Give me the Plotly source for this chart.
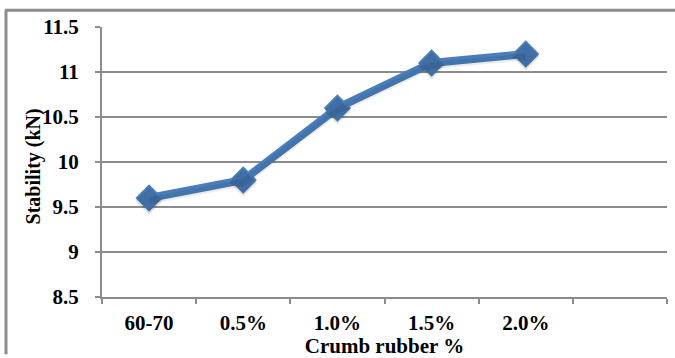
import plotly.graph_objects as go

categories = ["60-70", "0.5%", "1.0%", "1.5%", "2.0%", ""]
stability = [9.6, 9.8, 10.6, 11.1, 11.2]
y_ticks = [8.5, 9, 9.5, 10, 10.5, 11, 11.5]
y_tick_text = ["8.5", "9", "9.5", "10", "10.5", "11", "11.5"]

line_color = "#4A7EBB"
grid_color = "#8C8C8C"
font_family = "Liberation Serif, Times New Roman, serif"

# plot area in pixels (margins)
L, R, T, B = 102, 8, 27, 58
W, H = 675, 358
pw, ph = W - L - R, H - T - B

fig = go.Figure()

# soft drop shadow under the series
fig.add_trace(go.Scatter(
    x=categories[:len(stability)], y=[v - 0.03 for v in stability],
    mode="lines+markers",
    line=dict(color="rgba(0,0,0,0.08)", width=7),
    marker=dict(symbol="diamond", size=21, color="rgba(0,0,0,0.12)"),
    hoverinfo="skip", showlegend=False, xaxis="x2",
))

fig.add_trace(go.Scatter(
    x=categories[:len(stability)], y=stability,
    mode="lines+markers",
    line=dict(color=line_color, width=8),
    marker=dict(symbol="diamond", size=21, color=line_color),
    showlegend=False,
))

xaxis_common = dict(
    type="category",
    categoryorder="array",
    categoryarray=categories,
    range=[-0.5, len(categories) - 0.5],
)

fig.update_layout(
    width=W, height=H,
    margin=dict(l=L, r=R, t=T, b=B),
    paper_bgcolor="white",
    plot_bgcolor="white",
    font=dict(family=font_family, color="black"),
    xaxis=dict(
        **xaxis_common,
        tickvals=categories,
        ticktext=["<b>%s</b>" % c for c in categories],
        showgrid=False,
        showline=True, linecolor=grid_color, linewidth=2,
        ticks="outside", ticklen=5, tickcolor=grid_color, tickwidth=2,
        tickson="boundaries",
        ticklabelstandoff=6,
        tickfont=dict(size=21, family=font_family),
        title=dict(text="<b>Crumb rubber %</b>", font=dict(size=21), standoff=0),
    ),
    xaxis2=dict(**xaxis_common, overlaying="x", visible=False),
    yaxis=dict(
        range=[8.5, 11.5],
        tickvals=y_ticks, ticktext=["<b>%s</b>" % t for t in y_tick_text],
        showgrid=True, gridcolor=grid_color, gridwidth=2,
        showline=True, linecolor=grid_color, linewidth=2,
        ticks="outside", ticklen=5, tickcolor=grid_color, tickwidth=2,
        ticklabelstandoff=12,
        tickfont=dict(size=21, family=font_family),
        zeroline=False,
    ),
    annotations=[
        dict(text="<b>Stability (kN)</b>", textangle=-90,
             xref="paper", yref="paper",
             x=(33 - L) / pw, y=(H - B - 168) / ph,
             xanchor="center", yanchor="middle", showarrow=False,
             font=dict(size=20, family=font_family, color="black")),
    ],
    shapes=[
        dict(type="line", xref="paper", yref="paper",
             x0=(5 - L) / pw, x1=(W - L) / pw,
             y0=(H - B - 10) / ph, y1=(H - B - 10) / ph,
             line=dict(color=grid_color, width=3)),
        dict(type="line", xref="paper", yref="paper",
             x0=(6 - L) / pw, x1=(6 - L) / pw,
             y0=(H - B - 10) / ph, y1=-B / ph,
             line=dict(color=grid_color, width=3)),
    ],
)

fig.write_html("out.html")
